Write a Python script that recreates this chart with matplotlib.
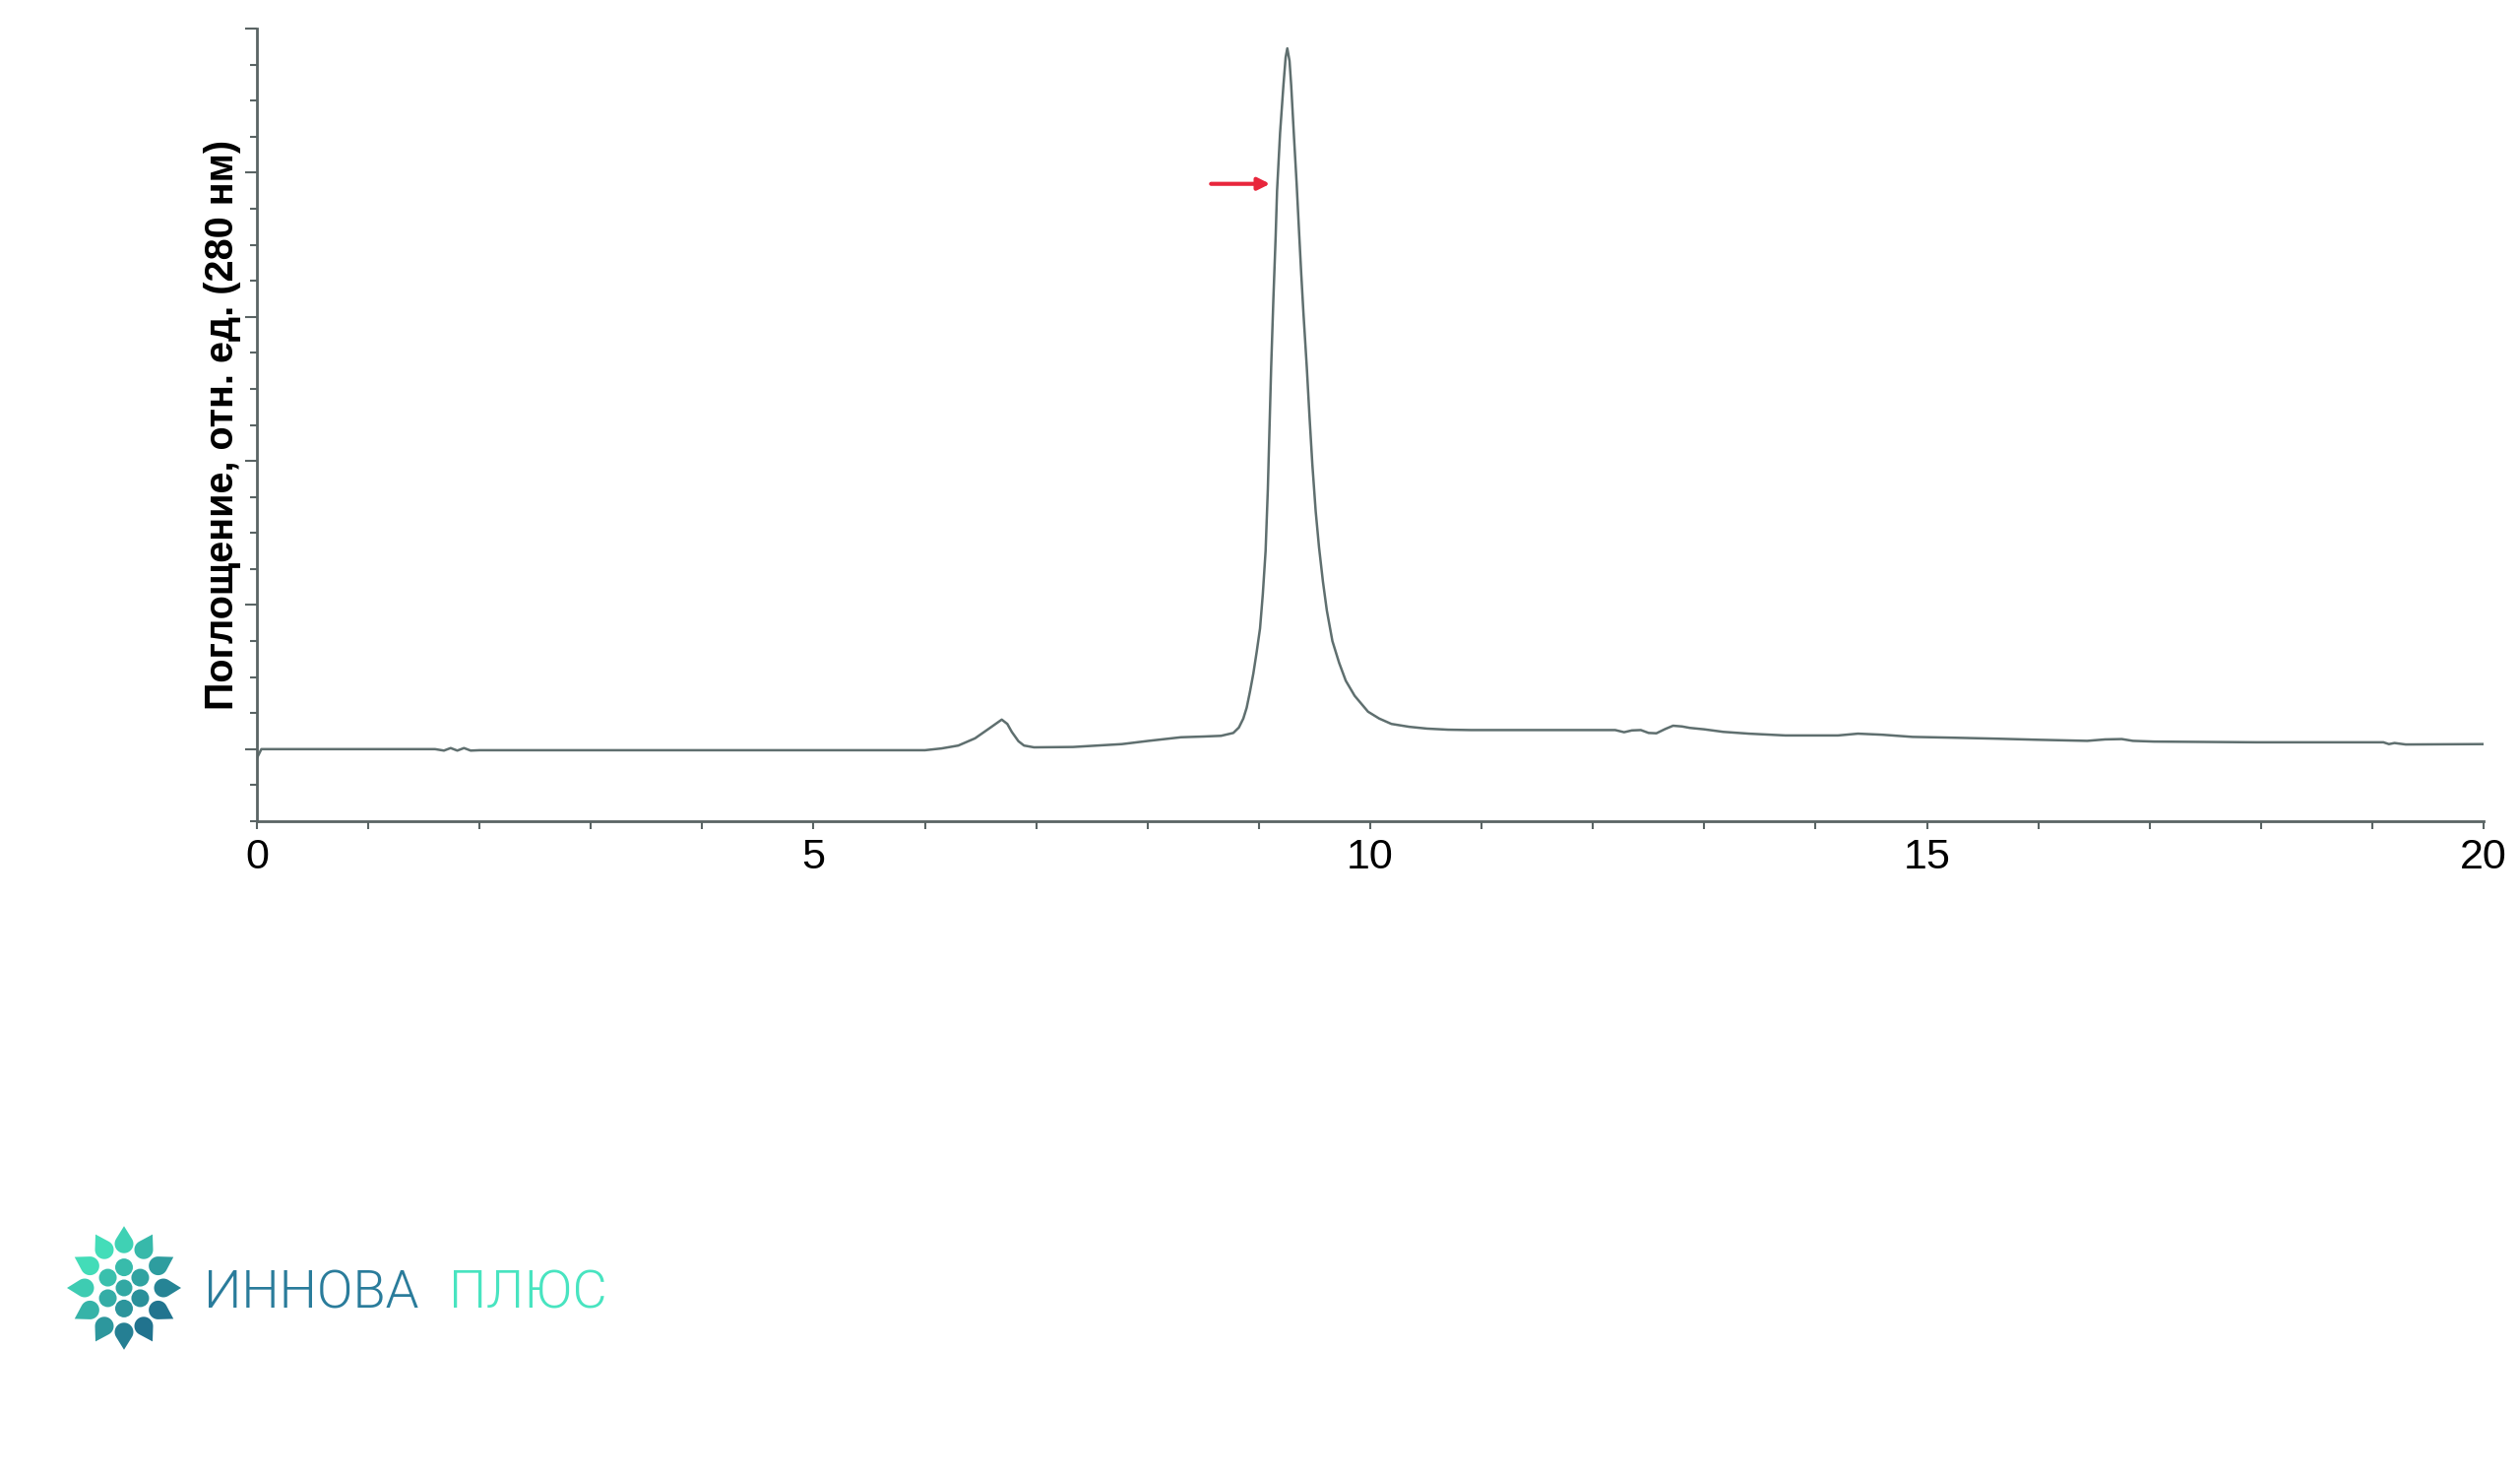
import numpy as np
import matplotlib.pyplot as plt
from matplotlib.patches import Polygon, Circle
from matplotlib.colors import to_rgb

# retention time (min) and absorbance (rel. units)
time_min = [0.00, 0.04, 1.60, 1.68, 1.74, 1.80, 1.86, 1.92, 2.00, 6.00,
            6.15, 6.30, 6.45, 6.58, 6.69, 6.74, 6.78, 6.84, 6.89, 6.98,
            7.33, 7.77, 8.01, 8.30, 8.50, 8.66, 8.77, 8.82, 8.86, 8.89,
            8.92, 8.95, 8.98, 9.01, 9.035, 9.06, 9.08, 9.095, 9.11, 9.13,
            9.15, 9.163, 9.19, 9.22, 9.24, 9.255, 9.275, 9.29, 9.315, 9.339,
            9.36, 9.38, 9.40, 9.43, 9.455, 9.48, 9.51, 9.54, 9.575, 9.61,
            9.66, 9.72, 9.78, 9.86, 9.98, 10.08, 10.19, 10.35, 10.51, 10.70,
            10.90, 12.20, 12.28, 12.35, 12.43, 12.50, 12.57, 12.65, 12.72, 12.80,
            12.87, 13.00, 13.17, 13.40, 13.73, 14.20, 14.38, 14.60, 14.87, 15.20,
            15.63, 16.00, 16.44, 16.60, 16.75, 16.85, 17.04, 17.96, 19.10, 19.15,
            19.20, 19.30, 19.99]
absorb = [-0.25, 0.00, 0.00, -0.04, 0.03, -0.04, 0.03, -0.04, -0.03, -0.03,
          0.02, 0.10, 0.30, 0.58, 0.82, 0.70, 0.48, 0.22, 0.10, 0.05,
          0.06, 0.14, 0.23, 0.33, 0.35, 0.37, 0.45, 0.60, 0.85, 1.15,
          1.60, 2.10, 2.70, 3.35, 4.30, 5.50, 7.20, 8.90, 10.60, 12.50,
          14.20, 15.50, 17.10, 18.42, 19.20, 19.45, 19.10, 18.42, 17.00, 15.69,
          14.40, 13.20, 12.10, 10.60, 9.20, 7.90, 6.60, 5.60, 4.65, 3.85,
          3.00, 2.40, 1.90, 1.48, 1.04, 0.85, 0.70, 0.62, 0.57, 0.54,
          0.53, 0.53, 0.47, 0.52, 0.53, 0.45, 0.44, 0.56, 0.65, 0.63,
          0.59, 0.55, 0.48, 0.43, 0.38, 0.38, 0.43, 0.40, 0.34, 0.32,
          0.29, 0.26, 0.23, 0.27, 0.28, 0.23, 0.21, 0.19, 0.19, 0.14,
          0.17, 0.13, 0.14]

x_ticks = [0, 5, 10, 15, 20]
x_labels = ['0', '5', '10', '15', '20']
ylabel = 'Поглощение, отн. ед. (280 нм)'
arrow_from = (8.57, 15.69)
arrow_to = (9.10, 15.69)

line_col = '#5f6f6f'
axis_col = '#5a6464'

fig = plt.figure(figsize=(25.6, 14.99), dpi=100)
ax = fig.add_axes([0.10195, 0.44363, 0.8836, 0.53702])

ax.plot(time_min, absorb, color=line_col, lw=1.8)
ax.annotate('', xy=arrow_to, xytext=arrow_from,
            arrowprops=dict(arrowstyle='-|>', color='#e8263c', lw=3,
                            mutation_scale=18, shrinkA=0, shrinkB=0))

ax.set_xlim(0, 20)
ax.set_ylim(-2, 20)
for s in ['top', 'right']:
    ax.spines[s].set_visible(False)
for s in ['left', 'bottom']:
    ax.spines[s].set_color(axis_col)
    ax.spines[s].set_linewidth(2)

ax.set_xticks(x_ticks)
ax.set_xticklabels(x_labels, family=['Liberation Sans Narrow', 'Liberation Sans'], fontsize=31)
ax.set_xticks(np.arange(0, 21, 1), minor=True)
ax.set_yticks(np.arange(0, 21, 4))
ax.set_yticklabels([])
ax.set_yticks(np.arange(-2, 21, 1), minor=True)
ax.tick_params(axis='x', which='both', length=6, width=1.5, color=axis_col, pad=6)
ax.tick_params(axis='y', which='major', length=9, width=1.5, color=axis_col)
ax.tick_params(axis='y', which='minor', length=5, width=1.5, color=axis_col)
ax.set_ylabel(ylabel, family=['Liberation Sans', 'DejaVu Sans'], fontweight='bold',
              fontsize=28.5, labelpad=-1)

# company logo: teardrop flower + name
lax = fig.add_axes([0, 0, 1, 1], zorder=-1)
lax.set_xlim(0, 2560)
lax.set_ylim(1499, 0)
lax.axis('off')
c1 = np.array(to_rgb('#45e3bb'))
c2 = np.array(to_rgb('#1f6d8c'))
cx, cy = 126, 1308


def grad(x, y):
    t = ((x - cx) + (y - cy)) / 130 + 0.5
    t = min(max(t, 0), 1)
    return c1 * (1 - t) + c2 * t


def drop(x, y, ang, r=9.5, d=18):
    a = np.radians(ang)
    phi = np.arccos(r / d)
    th = np.linspace(a + phi, a + 2 * np.pi - phi, 30)
    pts = [(x + d * np.cos(a), y - d * np.sin(a))]
    pts += [(x + r * np.cos(t), y - r * np.sin(t)) for t in th]
    lax.add_patch(Polygon(pts, closed=True, color=grad(x, y), lw=0))


for k in range(12):
    ang = 90 + 30 * k
    px = cx + 40 * np.cos(np.radians(ang))
    py = cy - 40 * np.sin(np.radians(ang)) * 1.12
    drop(px, py, ang)
for k in range(6):
    ang = 60 * k + 30
    px = cx + 19 * np.cos(np.radians(ang))
    py = cy - 19 * np.sin(np.radians(ang)) * 1.1
    lax.add_patch(Circle((px, py), 9, color=grad(px, py), lw=0))
lax.add_patch(Circle((cx, cy), 8.5, color=grad(cx, cy), lw=0))

lax.text(207, cy, 'ИННОВА', color='#2a7c9b', fontsize=39, fontweight=300,
         family=['Roboto', 'Open Sans', 'DejaVu Sans'], va='center_baseline', ha='left')
lax.text(456, cy, 'ПЛЮС', color='#48e4c0', fontsize=39, fontweight=300,
         family=['Roboto', 'Open Sans', 'DejaVu Sans'], va='center_baseline', ha='left')

fig.savefig('out.png', dpi=100)
